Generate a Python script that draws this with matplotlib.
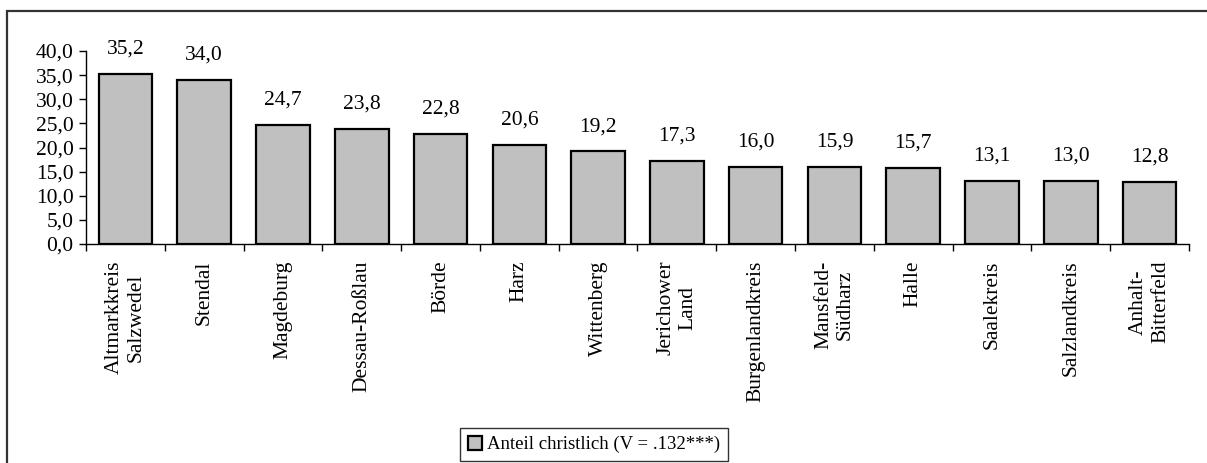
import matplotlib
matplotlib.use("Agg")
import matplotlib.pyplot as plt
from matplotlib.patches import Rectangle
import numpy as np

regions = ["Altmarkkreis\nSalzwedel", "Stendal", "Magdeburg", "Dessau-Roßlau", "Börde",
           "Harz", "Wittenberg", "Jerichower\nLand", "Burgenlandkreis", "Mansfeld-\nSüdharz",
           "Halle", "Saalekreis", "Salzlandkreis", "Anhalt-\nBitterfeld"]
anteil = [35.2, 34.0, 24.7, 23.8, 22.8, 20.6, 19.2, 17.3, 16.0, 15.9, 15.7, 13.1, 13.0, 12.8]
y_ticks = [0, 5, 10, 15, 20, 25, 30, 35, 40]

plt.rcParams['font.family'] = ['Liberation Serif', 'DejaVu Serif']
fs = 15.5

fig = plt.figure(figsize=(12.07, 4.63), dpi=100)
ax = fig.add_axes([86 / 1207, 1 - 244 / 463, (1189 - 86) / 1207, (244 - 51) / 463])

x = np.arange(len(regions))
bars = ax.bar(x, anteil, width=0.68, color='#c0c0c0', edgecolor='black', linewidth=1.6,
              label='Anteil christlich (V = .132***)')

for xi, v in zip(x, anteil):
    ax.annotate(f"{v:.1f}".replace('.', ','), (xi, v), xytext=(0, 11),
                textcoords='offset points', ha='center', va='bottom', fontsize=fs)

ax.set_xlim(-0.5, len(regions) - 0.5)
ax.set_ylim(0, 40)
ax.set_yticks(y_ticks)
ax.set_yticklabels([f"{t:.1f}".replace('.', ',') for t in y_ticks], fontsize=fs)
ax.tick_params(axis='y', direction='out', length=5, width=1, pad=4)

# category ticks at the boundaries, labels at the centres
ax.set_xticks(np.arange(len(regions) + 1) - 0.5)
ax.set_xticklabels([])
ax.set_xticks(x, minor=True)
ax.set_xticklabels(regions, minor=True, rotation=90, fontsize=fs, ha='center', va='top',
                   multialignment='center')
ax.tick_params(axis='x', which='major', direction='out', length=5, width=1)
ax.tick_params(axis='x', which='minor', length=0, pad=12)

for s in ['top', 'right']:
    ax.spines[s].set_visible(False)
ax.spines['left'].set_linewidth(1)
ax.spines['bottom'].set_linewidth(1)

leg = fig.legend(handles=[bars], loc='center', bbox_to_anchor=(594 / 1207, 1 - 444.5 / 463),
                 fontsize=13.5, frameon=True, fancybox=False, edgecolor='black',
                 handlelength=0.75, handleheight=0.75, handletextpad=0.3, borderpad=0.4,
                 borderaxespad=0)
leg.get_frame().set_linewidth(1)

# outer chart frame (cropped at right and bottom)
fig.patches.append(Rectangle((7 / 1207, -0.1), 1.2, 1.1 - 11 / 463, transform=fig.transFigure,
                             fill=False, edgecolor='#333333', linewidth=1.6))

fig.savefig('out.png', dpi=100)
